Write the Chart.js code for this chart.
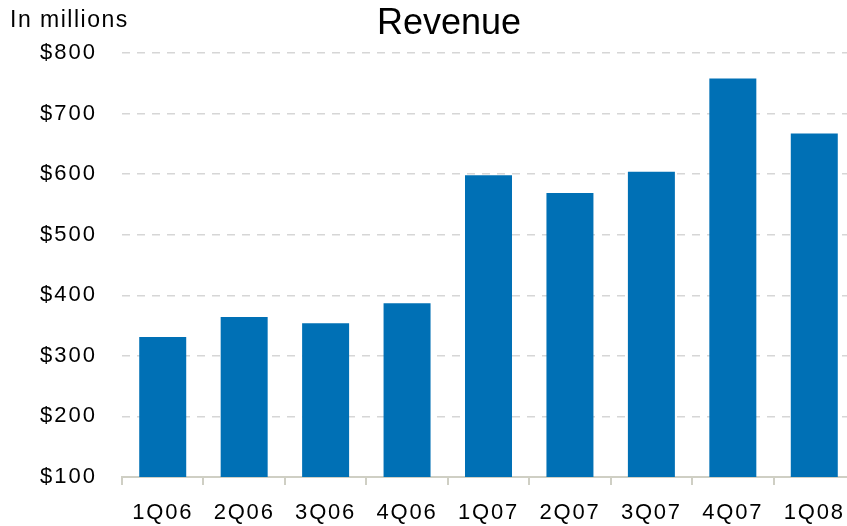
<!DOCTYPE html>
<html>
<head>
<meta charset="utf-8">
<script src="https://cdn.jsdelivr.net/npm/chart.js@4/dist/chart.umd.min.js"></script>
<style>
  html, body { margin: 0; padding: 0; background: #ffffff; overflow: hidden; }
  #wrap { width: 847px; height: 526px; position: relative; overflow: hidden; }
  canvas { display: block; }
</style>
</head>
<body>
<div id="wrap"><canvas id="c" width="856" height="526"></canvas></div>
<script>
const categories = ['1Q06', '2Q06', '3Q06', '4Q06', '1Q07', '2Q07', '3Q07', '4Q07', '1Q08'];
const revenue = [331, 364, 354, 387, 598, 569, 604, 758, 667];
const yTicks = [100, 200, 300, 400, 500, 600, 700, 800];
const titleText = 'Revenue';
const unitText = 'In millions';

const FONT = "Arial, 'Liberation Sans', Helvetica, sans-serif";
const AXIS_COLOR = '#cfcfc4';

// title and unit label drawn as real text on the canvas
const headerText = {
  id: 'headerText',
  afterDraw(chart) {
    const ctx = chart.ctx;
    ctx.save();
    ctx.fillStyle = '#000000';
    ctx.textBaseline = 'middle';

    ctx.font = '36px ' + FONT;
    ctx.textAlign = 'center';
    ctx.fillText(titleText, 449, 24);

    ctx.font = '23px ' + FONT;
    ctx.letterSpacing = '1.5px';
    ctx.textAlign = 'left';
    ctx.fillText(unitText, 10, 21);
    ctx.restore();
  }
};

// add letter spacing to tick labels (as in the reference rendering)
const spacedTicks = {
  id: 'spacedTicks',
  afterUpdate(chart) {
    const spacing = { x: '1.8px', y: '2px' };
    Object.keys(spacing).forEach(id => {
      const s = chart.scales[id];
      if (!s || s._spacedWrapped) return;
      const orig = s.drawLabels.bind(s);
      s.drawLabels = function (area) {
        const c = this.ctx;
        const prev = c.letterSpacing;
        c.letterSpacing = spacing[id];
        orig(area);
        c.letterSpacing = prev || '0px';
      };
      s._spacedWrapped = true;
    });
  }
};

new Chart(document.getElementById('c'), {
  type: 'bar',
  data: {
    labels: categories,
    datasets: [{
      data: revenue,
      backgroundColor: '#0070b5',
      borderWidth: 0,
      barPercentage: 0.577,
      categoryPercentage: 1.0
    }]
  },
  options: {
    responsive: false,
    animation: false,
    devicePixelRatio: 1,
    layout: { padding: { left: 20, right: 1, top: 53, bottom: 0 } },
    plugins: {
      legend: { display: false },
      tooltip: { enabled: false },
      title: { display: false }
    },
    scales: {
      x: {
        offset: true,
        afterFit(scale) {
          scale.height = 49;
          scale.paddingLeft = 0;
          scale.paddingRight = 0;
        },
        grid: {
          offset: true,
          drawOnChartArea: false,
          drawTicks: true,
          tickLength: 8,
          color: AXIS_COLOR,
          lineWidth: 2
        },
        border: { display: true, color: AXIS_COLOR, width: 2 },
        ticks: {
          color: '#000000',
          font: { family: FONT, size: 22 },
          padding: 15,
          maxRotation: 0,
          autoSkip: false
        }
      },
      y: {
        min: 100,
        max: 800,
        afterBuildTicks(scale) {
          scale.ticks = yTicks.map(v => ({ value: v }));
        },
        afterFit(scale) {
          scale.width = 102;
          scale.paddingTop = 0;
          scale.paddingBottom = 0;
        },
        grid: {
          drawTicks: false,
          color: (ctx) => ctx.tick && ctx.tick.value === 100 ? 'rgba(0,0,0,0)' : '#d6d6d6',
          lineWidth: 1.5
        },
        border: { display: false, dash: [8, 7] },
        ticks: {
          color: '#000000',
          font: { family: FONT, size: 22 },
          padding: 25,
          callback: (v) => '$' + v
        }
      }
    }
  },
  plugins: [headerText, spacedTicks]
});
</script>
</body>
</html>
